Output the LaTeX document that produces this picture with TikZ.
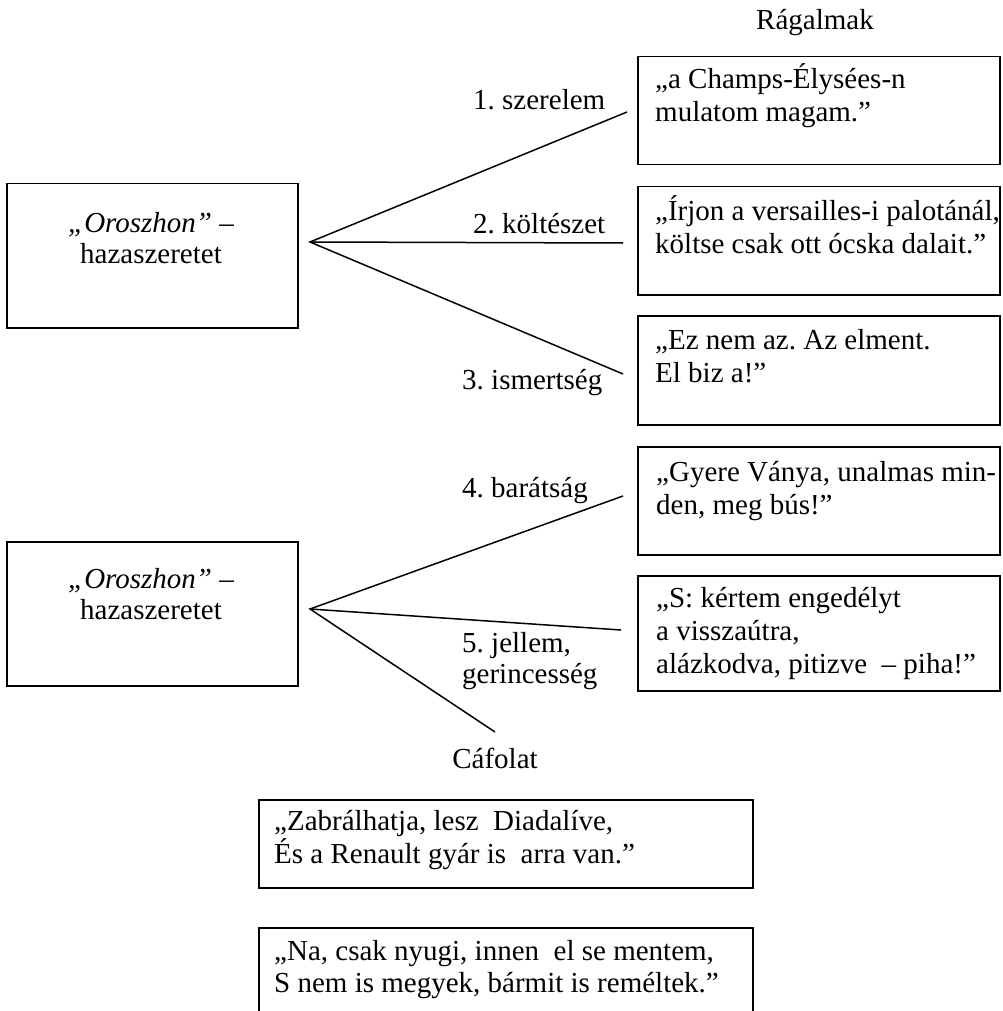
\documentclass[tikz,border=0pt]{standalone}
\usepackage{fontspec}
\setmainfont{Liberation Serif}
\frenchspacing
\begin{document}
\begin{tikzpicture}[x=1pt,y=-1pt,
  box/.style={draw, line width=1.5pt, inner sep=0pt, anchor=north west},
  txt/.style={anchor=base west, inner sep=0pt, font=\fontsize{29}{33}\selectfont},
  ctxt/.style={anchor=base, inner sep=0pt, font=\fontsize{29}{33}\selectfont},
  conn/.style={line width=1.5pt}]
\useasboundingbox (0,0) rectangle (1002,1011);
\clip (0,0) rectangle (1002,1011);

% headings
\node[ctxt] (hrag) at (815,30) {Rágalmak};
\node[ctxt] (hcaf) at (495,768) {Cáfolat};

% left boxes
\node[box, minimum width=291pt, minimum height=144pt] (l1) at (6,183) {};
\node[ctxt] (l1a) at (151,232) {\textit{„Oroszhon”} –};
\node[ctxt] (l1b) at (151,263) {hazaszeretet};
\node[box, minimum width=291pt, minimum height=144pt] (l2) at (6,541) {};
\node[ctxt] (l2a) at (151,588) {\textit{„Oroszhon”} –};
\node[ctxt] (l2b) at (151,619) {hazaszeretet};

% right boxes
\node[box, minimum width=362pt, minimum height=108pt] (r1) at (637,56) {};
\node[txt] (r1a) at (655,89) {„a Champs-Élysées-n};
\node[txt] (r1b) at (655,122) {mulatom magam.”};

\node[box, minimum width=362pt, minimum height=108pt] (r2) at (637,186) {};
\node[txt] (r2a) at (655,220) {„Írjon a versailles-i palotánál,};
\node[txt] (r2b) at (655,253) {költse csak ott ócska dalait.”};

\node[box, minimum width=362pt, minimum height=109pt] (r3) at (637,315) {};
\node[txt] (r3a) at (655,349) {„Ez nem az. Az elment.};
\node[txt] (r3b) at (655,382) {El biz a!”};

\node[box, minimum width=362pt, minimum height=108pt] (r4) at (637,446) {};
\node[txt] (r4a) at (656,481) {„Gyere Ványa, unalmas min-};
\node[txt] (r4b) at (656,514) {den, meg bús!”};

\node[box, minimum width=362pt, minimum height=115pt] (r5) at (637,575) {};
\node[txt] (r5a) at (656,607) {„S: kértem engedélyt};
\node[txt] (r5b) at (656,640) {a visszaútra,};
\node[txt] (r5c) at (656,673) {alázkodva, pitizve~ – piha!”};

% bottom boxes
\node[box, minimum width=494pt, minimum height=88pt] (b1) at (258,799) {};
\node[txt] (b1a) at (274,830) {„Zabrálhatja, lesz~ Diadalíve,};
\node[txt] (b1b) at (274,863) {És a Renault gyár is~ arra van.”};
\node[box, minimum width=494pt, minimum height=120pt] (b2) at (258,927) {};
\node[txt] (b2a) at (274,960) {„Na, csak nyugi, innen~ el se mentem,};
\node[txt] (b2b) at (274,992) {S nem is megyek, bármit is reméltek.”};

% labels
\node[txt] (lab1) at (473,110) {1. szerelem};
\node[txt] (lab2) at (473,233) {2. költészet};
\node[txt] (lab3) at (462,389) {3. ismertség};
\node[txt] (lab4) at (462,497) {4. barátság};
\node[txt] (lab5a) at (462,652) {5. jellem,};
\node[txt] (lab5b) at (462,683) {gerincesség};

% connectors
\coordinate (v1) at (310,242);
\coordinate (e1) at (627,112);
\coordinate (e2) at (623,243);
\coordinate (e3) at (623,374);
\coordinate (v2) at (310,609);
\coordinate (e4) at (623,496);
\coordinate (e5) at (621,630);
\coordinate (e6) at (495,732);
\draw[conn] (e1) -- (v1) -- (e3);
\draw[conn] (v1) -- (e2);
\draw[conn] (e4) -- (v2) -- (e6);
\draw[conn] (v2) -- (e5);
\end{tikzpicture}
\end{document}
